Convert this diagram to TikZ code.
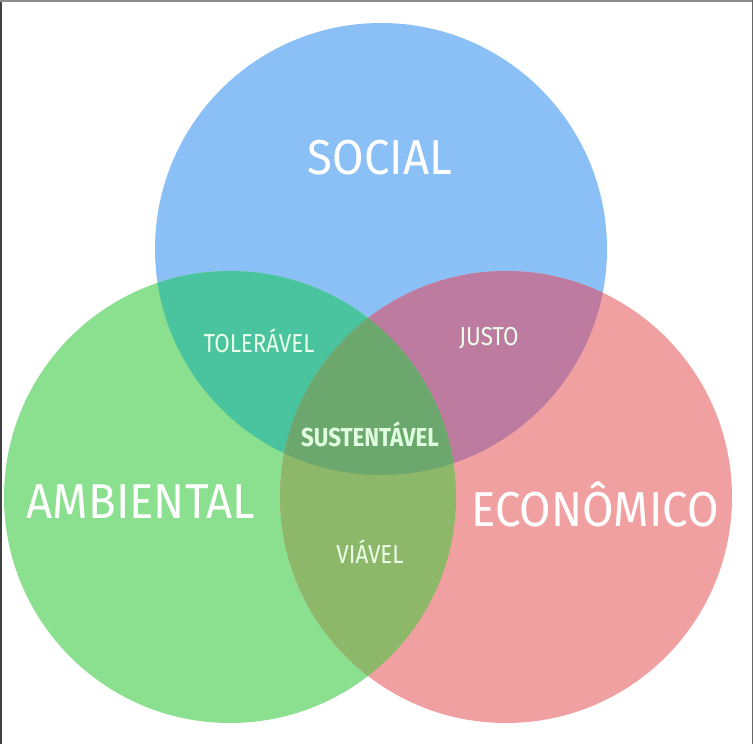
\documentclass[tikz,border=0pt]{standalone}
\usepackage{fontspec}
\newfontfamily\vennbig[FakeStretch=0.93]{Fira Sans}
\newfontfamily\vennsmall[FakeStretch=0.86]{Fira Sans}
\usetikzlibrary{positioning}

\definecolor{socialblue}{HTML}{8AC0F6}
\definecolor{ambgreen}{HTML}{8BE08F}
\definecolor{ecopink}{HTML}{F0A0A0}
\definecolor{tolteal}{HTML}{4AC49F}
\definecolor{justpurple}{HTML}{BE7BA0}
\definecolor{viagreen}{HTML}{8DB86A}
\definecolor{sustgreen}{HTML}{6CA86D}

\begin{document}
\begin{tikzpicture}[
    x=1pt, y=-1pt,
    bigtext/.style={font=\vennbig\fontsize{49}{49}\selectfont, text=white},
    smalltext/.style={font=\vennsmall\fontsize{26}{26}\selectfont, text=white!92!green},
    centertext/.style={font=\vennsmall\bfseries\fontsize{26}{26}\selectfont, text=white!88!green}
]
    \useasboundingbox (0,0) rectangle (753,744);
    \fill[white] (0,0) rectangle (753,744);

    % centros dos circulos
    \coordinate (social) at (381,249);
    \coordinate (ambiental) at (230,497);
    \coordinate (economico) at (506,497);

    % circulos
    \fill[socialblue] (social) circle[radius=226pt];
    \fill[ambgreen] (ambiental) circle[radius=226pt];
    \fill[ecopink] (economico) circle[radius=226pt];

    % intersecoes duas a duas
    \begin{scope}
        \clip (social) circle[radius=226pt];
        \fill[tolteal] (ambiental) circle[radius=226pt];
        \fill[justpurple] (economico) circle[radius=226pt];
    \end{scope}
    \begin{scope}
        \clip (ambiental) circle[radius=226pt];
        \fill[viagreen] (economico) circle[radius=226pt];
    \end{scope}

    % intersecao das tres
    \begin{scope}
        \clip (social) circle[radius=226pt];
        \clip (ambiental) circle[radius=226pt];
        \fill[sustgreen] (economico) circle[radius=226pt];
    \end{scope}

    % rotulos
    \node[bigtext] (soc) at (380,158) {SOCIAL};
    \node[bigtext] (amb) at (141,502) {AMBIENTAL};
    \node[bigtext] (eco) at (595,504) {ECONÔMICO};
    \node[smalltext] (tol) at (259,341) {TOLERÁVEL};
    \node[smalltext] (jus) at (489,338) {JUSTO};
    \node[smalltext] (via) at (370,552) {VIÁVEL};
    \node[centertext] (sus) at (370,434) {SUSTENTÁVEL};

    % moldura
    \draw[line width=1.5pt, black!75] (0.75,744) -- (0.75,0);
    \draw[line width=1.5pt, black!45] (0,0.75) -- (753,0.75);
    \draw[line width=1.5pt, black!60] (752.25,0) -- (752.25,744);
\end{tikzpicture}
\end{document}
